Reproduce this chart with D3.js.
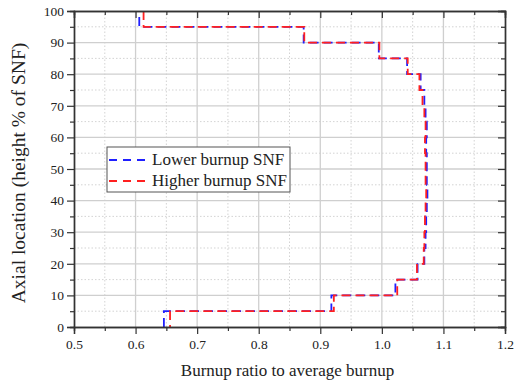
<!DOCTYPE html>
<html>
<head>
<meta charset="utf-8">
<script src="https://cdn.jsdelivr.net/npm/d3@7"></script>
<style>
  body { margin: 0; background: #fff; }
  text { font-family: "Liberation Serif", "Times New Roman", serif; fill: #222; }
</style>
</head>
<body>
<div id="chart"></div>
<script>
// 축 방향 구간 경계 (5% 간격), 각 구간의 연소도 비율
const segmentHeights = [0, 5, 10, 15, 20, 25, 30, 35, 40, 45, 50, 55, 60, 65, 70, 75, 80, 85, 90, 95, 100];
const lowerBurnup = [0.646, 0.918, 1.022, 1.058, 1.069, 1.071, 1.072, 1.073, 1.074, 1.073,
                     1.073, 1.072, 1.073, 1.071, 1.069, 1.063, 1.041, 0.995, 0.873, 0.606];
const higherBurnup = [0.656, 0.922, 1.025, 1.057, 1.068, 1.069, 1.070, 1.071, 1.072, 1.071,
                      1.071, 1.070, 1.071, 1.069, 1.066, 1.061, 1.042, 0.996, 0.874, 0.613];
const xTicks = [0.5, 0.6, 0.7, 0.8, 0.9, 1.0, 1.1, 1.2];
const yTicks = [0, 10, 20, 30, 40, 50, 60, 70, 80, 90, 100];
const seriesNames = ['Lower burnup SNF', 'Higher burnup SNF'];
const seriesColors = ['#1f1fff', '#ff2020'];

const width = 514, height = 383;
const margin = { top: 11, right: 9, bottom: 56, left: 74 };

const svg = d3.select('#chart').append('svg')
    .attr('width', width)
    .attr('height', height);

const x = d3.scaleLinear().domain([0.5, 1.2]).range([margin.left, width - margin.right]);
const y = d3.scaleLinear().domain([0, 100]).range([height - margin.bottom, margin.top]);

const minorX = d3.range(0.55, 1.2, 0.1);
const minorY = d3.range(5, 100, 10);

// 보조 격자 (점선)
const grid = svg.append('g');
grid.selectAll('line.mx').data(minorX).enter().append('line')
    .attr('x1', d => x(d)).attr('x2', d => x(d))
    .attr('y1', y(0)).attr('y2', y(100))
    .attr('stroke', '#c8c8c8').attr('stroke-width', 0.8).attr('stroke-dasharray', '1.5,2');
grid.selectAll('line.my').data(minorY).enter().append('line')
    .attr('y1', d => y(d)).attr('y2', d => y(d))
    .attr('x1', x(0.5)).attr('x2', x(1.2))
    .attr('stroke', '#c8c8c8').attr('stroke-width', 0.8).attr('stroke-dasharray', '1.5,2');
// 주 격자 (실선)
grid.selectAll('line.gx').data(xTicks.slice(1, -1)).enter().append('line')
    .attr('x1', d => x(d)).attr('x2', d => x(d))
    .attr('y1', y(0)).attr('y2', y(100))
    .attr('stroke', '#cfcfcf').attr('stroke-width', 1.3);
grid.selectAll('line.gy').data(yTicks.slice(1, -1)).enter().append('line')
    .attr('y1', d => y(d)).attr('y2', d => y(d))
    .attr('x1', x(0.5)).attr('x2', x(1.2))
    .attr('stroke', '#cfcfcf').attr('stroke-width', 1.3);

// 계단형 선
function stepPoints(vals) {
    return vals.flatMap((v, i) => [[v, segmentHeights[i]], [v, segmentHeights[i + 1]]]);
}
const line = d3.line().x(d => x(d[0])).y(d => y(d[1]));

[lowerBurnup, higherBurnup].forEach((vals, i) => {
    svg.append('path')
        .attr('d', line(stepPoints(vals)))
        .attr('fill', 'none')
        .attr('stroke', seriesColors[i])
        .attr('stroke-width', 1.8)
        .attr('stroke-dasharray', '9,5')
        .attr('stroke-dashoffset', i === 0 ? 0 : 7);
});

// 축
function styleAxis(g) {
    g.selectAll('path.domain').attr('stroke', '#333').attr('stroke-width', 1.4);
    g.selectAll('.tick line').attr('stroke', '#333').attr('stroke-width', 1.2);
    g.selectAll('text').style('font-family', '"Liberation Serif", serif').style('font-size', '13.5px').attr('fill', '#222');
}
const fmtX = d3.format('.1f');

svg.append('g').attr('transform', `translate(0,${y(0)})`)
    .call(d3.axisBottom(x).tickValues(minorX).tickSize(4).tickFormat(''))
    .call(styleAxis);
svg.append('g').attr('transform', `translate(0,${y(0)})`)
    .call(d3.axisBottom(x).tickValues(xTicks).tickSize(7).tickPadding(5).tickFormat(fmtX))
    .call(styleAxis);
svg.append('g').attr('transform', `translate(${x(0.5)},0)`)
    .call(d3.axisLeft(y).tickValues(minorY).tickSize(4).tickFormat(''))
    .call(styleAxis);
svg.append('g').attr('transform', `translate(${x(0.5)},0)`)
    .call(d3.axisLeft(y).tickValues(yTicks).tickSize(7).tickPadding(3))
    .call(styleAxis);
// 위/오른쪽 축 (안쪽 눈금)
svg.append('g').attr('transform', `translate(0,${y(100)})`)
    .call(d3.axisBottom(x).tickValues(minorX).tickSize(4).tickFormat(''))
    .call(styleAxis);
svg.append('g').attr('transform', `translate(0,${y(100)})`)
    .call(d3.axisBottom(x).tickValues(xTicks).tickSize(7).tickFormat(''))
    .call(styleAxis);
svg.append('g').attr('transform', `translate(${x(1.2)},0)`)
    .call(d3.axisLeft(y).tickValues(minorY).tickSize(4).tickFormat(''))
    .call(styleAxis);
svg.append('g').attr('transform', `translate(${x(1.2)},0)`)
    .call(d3.axisLeft(y).tickValues(yTicks).tickSize(7).tickFormat(''))
    .call(styleAxis);

// 축 제목
svg.append('text')
    .attr('x', (x(0.5) + x(1.2)) / 2 - 2)
    .attr('y', 376)
    .attr('text-anchor', 'middle')
    .style('font-size', '17px')
    .text('Burnup ratio to average burnup');
svg.append('text')
    .attr('transform', `translate(25,${(y(0) + y(100)) / 2 + 4}) rotate(-90)`)
    .attr('text-anchor', 'middle')
    .style('font-size', '19.5px')
    .text('Axial location (height % of SNF)');

// 범례
const legend = svg.append('g').attr('transform', 'translate(107,147)');
legend.append('rect')
    .attr('width', 183).attr('height', 45)
    .attr('fill', '#fff').attr('stroke', '#555').attr('stroke-width', 1);
seriesNames.forEach((name, i) => {
    const ly = 13 + i * 21;
    legend.append('line')
        .attr('x1', 2).attr('x2', 41).attr('y1', ly).attr('y2', ly)
        .attr('stroke', seriesColors[i]).attr('stroke-width', 1.8)
        .attr('stroke-dasharray', '8,6');
    legend.append('text')
        .attr('x', 45).attr('y', ly + 5)
        .style('font-size', '17px')
        .text(name);
});
</script>
</body>
</html>
